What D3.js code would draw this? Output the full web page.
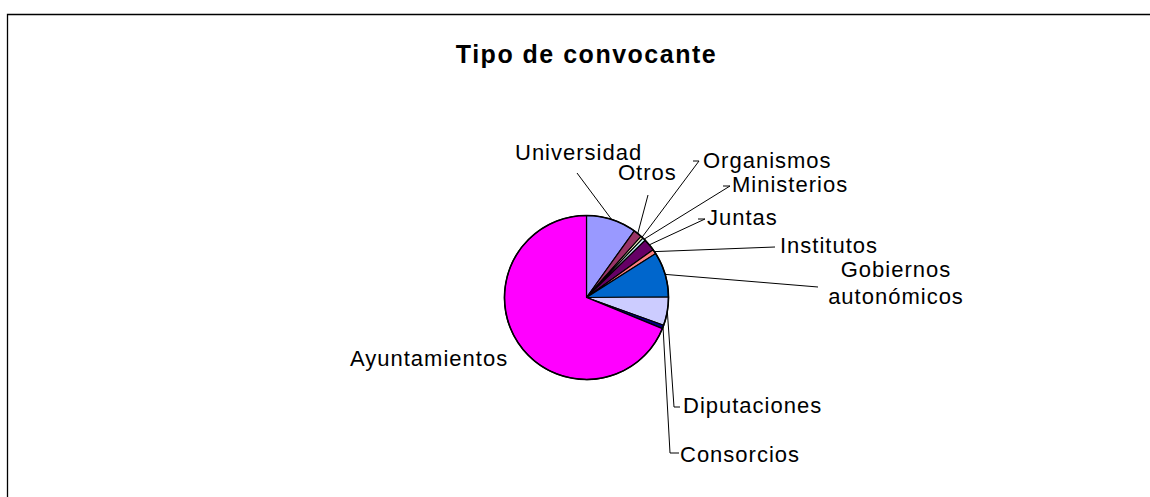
<!DOCTYPE html>
<html>
<head>
<meta charset="utf-8">
<script src="https://cdn.jsdelivr.net/npm/d3@7"></script>
<style>
  body { margin: 0; background: #fff; }
  svg { display: block; font-family: "Liberation Sans", Arial, sans-serif; }
</style>
</head>
<body>
<div id="chart"></div>
<script>
// Data (share of calls, clockwise from 12 o'clock)
const categories = ["Universidad", "Otros", "Organismos", "Ministerios", "Juntas",
  "Institutos", "Gobiernos autonómicos", "Diputaciones", "Consorcios", "Ayuntamientos"];
const values = [9.9, 1.7, 0.5, 0.6, 2.4, 0.9, 8.9, 5.6, 0.7, 68.8];
const colors = ["#9999FF", "#993366", "#FFFFCC", "#CCFFFF", "#660066",
  "#FF8080", "#0066CC", "#CCCCFF", "#000080", "#FF00FF"];

// Label placement (layout only): text anchor point + leader elbow
const labelLayout = {
  "Universidad":  {x: 515, y: 160, lines: ["Universidad"], leader: [[577, 173]]},
  "Otros":        {x: 618, y: 180, lines: ["Otros"], leader: [[648, 195]]},
  "Organismos":   {x: 703, y: 168, lines: ["Organismos"], leader: [[699, 161], [693, 161]]},
  "Ministerios":  {x: 732, y: 192, lines: ["Ministerios"], leader: [[730, 186], [723, 186]]},
  "Juntas":       {x: 707, y: 225, lines: ["Juntas"], leader: [[705, 219], [698, 219]]},
  "Institutos":   {x: 780, y: 253, lines: ["Institutos"], leader: [[775, 247]]},
  "Gobiernos autonómicos": {x: 896, y: 277, anchor: "middle", lines: ["Gobiernos", "autonómicos"], leader: [[818, 287]]},
  "Diputaciones": {x: 683, y: 413, lines: ["Diputaciones"], leader: [[674, 407], [680, 407]]},
  "Consorcios":   {x: 680, y: 462, lines: ["Consorcios"], leader: [[670, 453], [679, 453]]},
  "Ayuntamientos": {x: 350, y: 366, lines: ["Ayuntamientos"], leader: null}
};

const width = 1150, height = 497;
const cx = 586.5, cy = 297.5, radius = 82;

const svg = d3.select("#chart").append("svg")
    .attr("width", width)
    .attr("height", height);

// Chart area border (left and top edges visible)
svg.append("path")
    .attr("d", `M7.5,${height} V14.5 H${width}`)
    .attr("fill", "none")
    .attr("stroke", "#000")
    .attr("stroke-width", 1.3);

// Title
svg.append("text")
    .attr("x", cx)
    .attr("y", 63)
    .attr("text-anchor", "middle")
    .style("font-size", "25px")
    .style("font-weight", "bold")
    .style("letter-spacing", "1.5px")
    .text("Tipo de convocante");

const data = categories.map((c, i) => ({name: c, value: values[i], color: colors[i]}));

const pie = d3.pie().sort(null).value(d => d.value);
const arc = d3.arc().innerRadius(0).outerRadius(radius);
const arcs = pie(data);

const g = svg.append("g").attr("transform", `translate(${cx},${cy})`);

g.selectAll("path.slice")
    .data(arcs)
  .enter().append("path")
    .attr("class", "slice")
    .attr("d", arc)
    .attr("fill", d => d.data.color)
    .attr("stroke", "#000")
    .attr("stroke-width", 1.2)
    .attr("stroke-linejoin", "round");

// outer rim
g.append("circle")
    .attr("r", radius)
    .attr("fill", "none")
    .attr("stroke", "#000")
    .attr("stroke-width", 1.6);

// Leader lines: from the slice edge at its mid angle to the label
const edgeArc = d3.arc().innerRadius(radius).outerRadius(radius);
arcs.forEach(d => {
    const lay = labelLayout[d.data.name];
    if (!lay.leader) return;
    const p = edgeArc.centroid(d);
    const pts = [[p[0] + cx, p[1] + cy]].concat(lay.leader);
    svg.append("path")
        .attr("d", d3.line()(pts))
        .attr("fill", "none")
        .attr("stroke", "#000")
        .attr("stroke-width", 1);
});

// Labels
categories.forEach(name => {
    const lay = labelLayout[name];
    const t = svg.append("text")
        .attr("x", lay.x)
        .attr("y", lay.y)
        .attr("text-anchor", lay.anchor || "start")
        .style("font-size", "22px")
        .style("letter-spacing", "1px")
        .attr("fill", "#000");
    lay.lines.forEach((ln, i) => {
        t.append("tspan")
            .attr("x", lay.x)
            .attr("dy", i === 0 ? 0 : 27)
            .text(ln);
    });
});
</script>
</body>
</html>
